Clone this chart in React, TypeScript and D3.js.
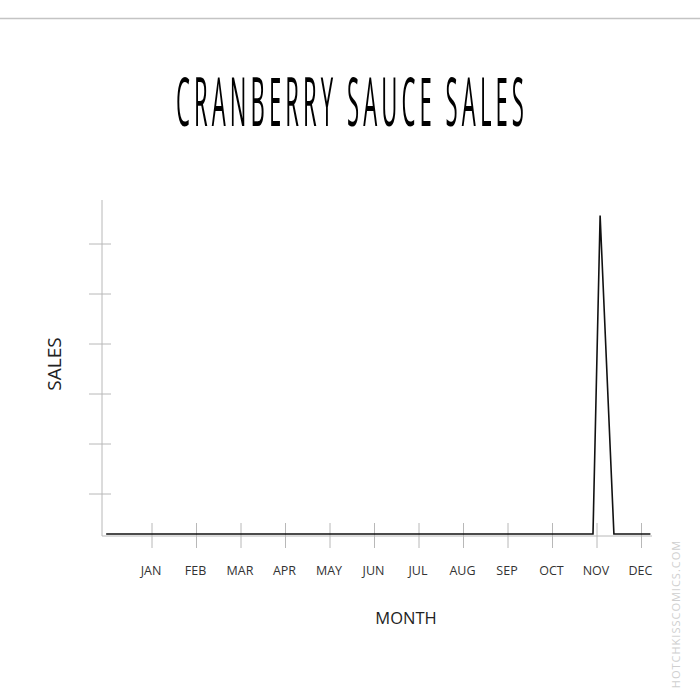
import React from "react";
import * as d3 from "d3";

const months = ["JAN", "FEB", "MAR", "APR", "MAY", "JUN", "JUL", "AUG", "SEP", "OCT", "NOV", "DEC"];
// time in month units (1 = JAN), sales in arbitrary tick units
const timePoints = [-0.03, 10.91, 11.07, 11.38, 12.2];
const salesValues = [0.2, 0.2, 6.57, 0.2, 0.2];
const yTicks = [1, 2, 3, 4, 5, 6];

const W = 700;
const H = 700;

export default function App() {
  const x = d3.scaleLinear().domain([1, 12]).range([152, 641.5]);
  const y = d3.scaleLinear().domain([0, 6]).range([544, 244]);
  const pts = timePoints.map((t, i) => [t, salesValues[i]] as [number, number]);
  const line = d3
    .line<[number, number]>()
    .x((d) => x(d[0]))
    .y((d) => y(d[1]));

  const axisColor = "#b8b8b8";
  const axisX0 = 102;
  const axisY = 536;
  const sx = 0.33;

  return (
    <svg
      width={W}
      height={H}
      viewBox={`0 0 ${W} ${H}`}
      style={{ position: "absolute", left: 0, top: 0, background: "#fff" }}
    >
      <rect x={0} y={0} width={W} height={H} fill="#fff" />
      <line x1={0} x2={W} y1={18.5} y2={18.5} stroke="#c4c4c4" strokeWidth={1.5} />

      <g style={{ filter: "grayscale(1)" }}>
        <g transform={`translate(176,126) scale(${sx},1)`}>
          <text
            x={0}
            y={0}
            textAnchor="start"
            fontFamily="'Open Sans', sans-serif"
            fontWeight={400}
            fontSize={67}
            textLength={348 / sx}
            lengthAdjust="spacing"
            fill="#000"
          >
            CRANBERRY SAUCE SALES
          </text>
        </g>
      </g>

      {/* y axis */}
      <line x1={axisX0} x2={axisX0} y1={200} y2={axisY} stroke={axisColor} strokeWidth={1} />
      {yTicks.map((t) => (
        <line
          key={t}
          x1={89}
          x2={111}
          y1={y(t)}
          y2={y(t)}
          stroke={axisColor}
          strokeWidth={1}
        />
      ))}

      {/* x axis */}
      <line x1={axisX0} x2={652} y1={axisY} y2={axisY} stroke={axisColor} strokeWidth={1} />
      {months.map((m, i) => (
        <g key={m}>
          <line
            x1={x(i + 1)}
            x2={x(i + 1)}
            y1={523}
            y2={548}
            stroke={axisColor}
            strokeWidth={1}
          />
          <text
            x={x(i + 1) - 1}
            y={575}
            textAnchor="middle"
            fontFamily="'Open Sans', sans-serif"
            fontSize={12.5}
            fill="#333"
          >
            {m}
          </text>
        </g>
      ))}

      {/* data line */}
      <path d={line(pts) || ""} fill="none" stroke="#111" strokeWidth={1.6} strokeLinejoin="miter" />

      {/* axis titles */}
      <text
        x={406}
        y={624}
        textAnchor="middle"
        fontFamily="'Open Sans', sans-serif"
        fontSize={16.5}
        fill="#222"
      >
        MONTH
      </text>
      <text
        transform="translate(61,364) rotate(-90)"
        textAnchor="middle"
        fontFamily="'Open Sans', sans-serif"
        fontSize={19}
        fill="#222"
      >
        SALES
      </text>

      {/* watermark */}
      <text
        transform="translate(680,614) rotate(-90)"
        textAnchor="middle"
        fontFamily="'Open Sans', sans-serif"
        fontSize={11}
        letterSpacing={1}
        fill="#cfcfcf"
      >
        HOTCHKISSCOMICS.COM
      </text>
    </svg>
  );
}
